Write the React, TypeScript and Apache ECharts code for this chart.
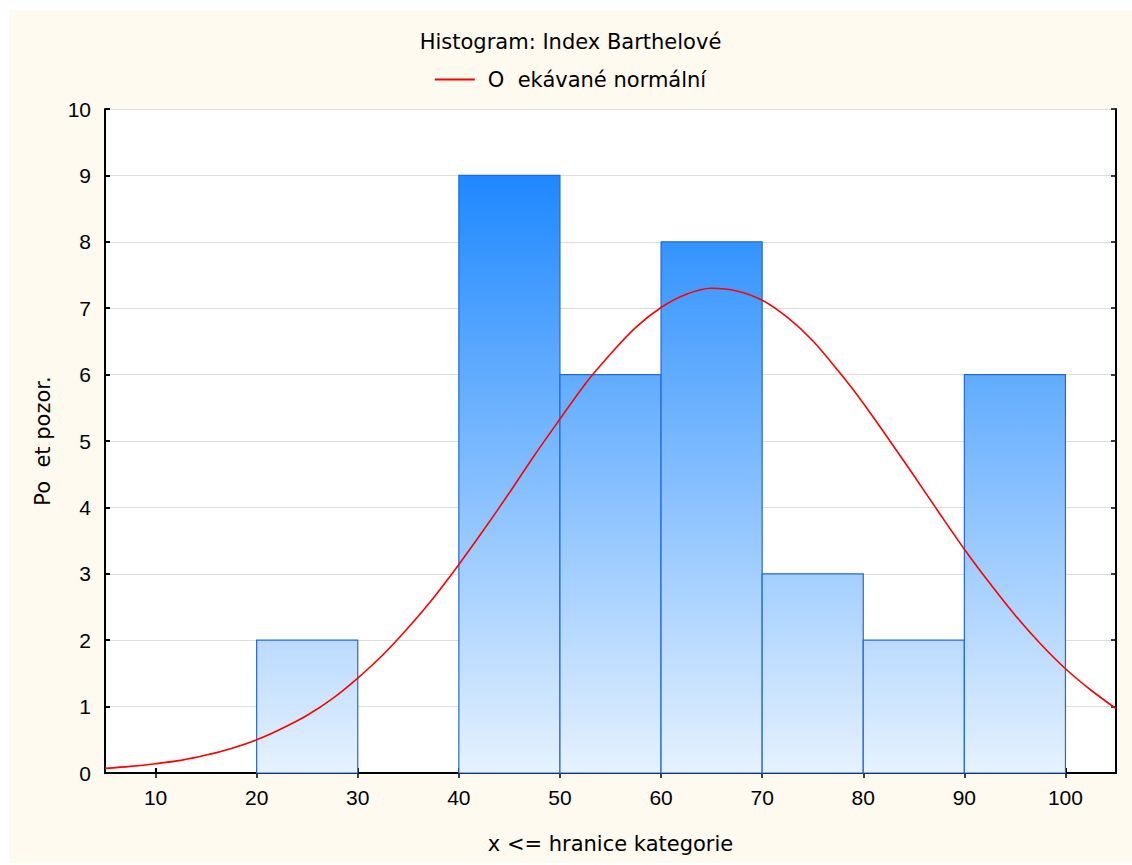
import React, { useEffect, useRef } from "react";
import * as echarts from "echarts";

// Histogram bins (lower bound, width) and observed counts
const binStarts = [20, 30, 40, 50, 60, 70, 80, 90];
const binWidth = 10;
const counts = [2, 0, 9, 6, 8, 3, 2, 6];

// Expected normal curve, sampled every 2.5 units
const curveX = [
  5, 7.5, 10, 12.5, 15, 17.5, 20, 22.5, 25, 27.5, 30, 32.5, 35, 37.5, 40, 42.5, 45, 47.5, 50, 52.5,
  55, 57.5, 60, 62.5, 65, 67.5, 70, 72.5, 75, 77.5, 80, 82.5, 85, 87.5, 90, 92.5, 95, 97.5, 100, 102.5, 105,
];
const curveY = [
  0.07, 0.1, 0.14, 0.19, 0.27, 0.37, 0.5, 0.67, 0.87, 1.12, 1.43, 1.78, 2.19, 2.64, 3.14, 3.67, 4.22, 4.79, 5.33, 5.86,
  6.31, 6.71, 7.01, 7.21, 7.3, 7.26, 7.12, 6.86, 6.51, 6.06, 5.57, 5.03, 4.48, 3.92, 3.37, 2.86, 2.38, 1.95, 1.57, 1.25, 0.97,
];

// Axis ticks
const xTickValues = [10, 20, 30, 40, 50, 60, 70, 80, 90, 100];
const xMin = 5;
const xMax = 105;
const yMin = 0;
const yMax = 10;

const titleText = "Histogram: Index Barthelové";
const curveName = "O  ekávané normální";
const xName = "x <= hranice kategorie";
const yName = "Po  et pozor.";

const FONT = "'Liberation Sans', Arial, sans-serif";
const WIDE_FONT = "'DejaVu Sans', 'Liberation Sans', sans-serif";

export default function App() {
  const ref = useRef<HTMLDivElement>(null);

  useEffect(() => {
    if (!ref.current) return;
    const chart = echarts.init(ref.current, null, { renderer: "svg" });

    const axisLine = { show: true, lineStyle: { color: "#000", width: 2 } };

    chart.setOption({
      animation: false,
      backgroundColor: "#FEFAEF",
      textStyle: { fontFamily: FONT, color: "#000" },
      title: {
        text: titleText,
        left: "center",
        top: 16,
        textStyle: { fontFamily: WIDE_FONT, fontSize: 21, fontWeight: "normal", color: "#000" },
      },
      legend: {
        top: 54,
        left: "center",
        itemWidth: 40,
        itemHeight: 2,
        data: [{ name: curveName, icon: "rect" }],
        textStyle: { fontFamily: WIDE_FONT, fontSize: 21, color: "#000", padding: [0, 0, 0, 8] },
      },
      grid: { left: 96, top: 99, width: 1011, height: 664, backgroundColor: "#fff", show: true, borderWidth: 0 },
      xAxis: [
        {
          type: "value",
          min: xMin,
          max: xMax,
          name: xName,
          nameLocation: "middle",
          nameGap: 60,
          nameTextStyle: { fontFamily: WIDE_FONT, fontSize: 21, color: "#000" },
          axisLine,
          axisTick: { show: true, inside: true, length: 5, customValues: xTickValues, lineStyle: { color: "#000", width: 2 } },
          axisLabel: { customValues: xTickValues, fontFamily: FONT, fontSize: 21, color: "#000", margin: 14 },
          splitLine: { show: false },
        },
        {
          type: "value",
          position: "top",
          min: xMin,
          max: xMax,
          axisLine,
          axisTick: { show: true, inside: true, length: 5, customValues: xTickValues, lineStyle: { color: "#000", width: 1.5 } },
          axisLabel: { show: false },
          splitLine: { show: false },
        },
      ],
      yAxis: [
        {
          type: "value",
          min: yMin,
          max: yMax,
          interval: 1,
          name: yName,
          nameLocation: "middle",
          nameGap: 52,
          nameTextStyle: { fontFamily: WIDE_FONT, fontSize: 21, color: "#000" },
          axisLine,
          axisTick: { show: true, inside: true, length: 5, lineStyle: { color: "#000", width: 2 } },
          axisLabel: { fontFamily: FONT, fontSize: 21, color: "#000", margin: 14 },
          splitLine: { show: true, lineStyle: { color: "#DDDDDD", width: 1 } },
        },
        {
          type: "value",
          position: "right",
          min: yMin,
          max: yMax,
          interval: 1,
          axisLine,
          axisTick: { show: true, inside: true, length: 5, lineStyle: { color: "#000", width: 1.5 } },
          axisLabel: { show: false },
          splitLine: { show: false },
        },
      ],
      series: [
        {
          type: "custom",
          name: "Bins",
          xAxisIndex: 0,
          yAxisIndex: 0,
          encode: { x: [0, 1], y: 2 },
          data: binStarts.map((s, i) => [s, s + binWidth, counts[i]]),
          renderItem: (params: any, api: any) => {
            const start = api.value(0);
            const end = api.value(1);
            const v = api.value(2);
            if (!v) return null;
            const topLeft = api.coord([start, v]);
            const bottomRight = api.coord([end, 0]);
            const gradTop = api.coord([start, 9])[1];
            const gradBottom = api.coord([start, 0])[1];
            const fill = new echarts.graphic.LinearGradient(
              0,
              gradTop,
              0,
              gradBottom,
              [
                { offset: 0, color: "#1E88FF" },
                { offset: 1, color: "#E6F2FF" },
              ],
              true
            );
            return {
              type: "rect",
              shape: {
                x: topLeft[0],
                y: topLeft[1],
                width: bottomRight[0] - topLeft[0],
                height: bottomRight[1] - topLeft[1],
              },
              style: { fill, stroke: "#2468DA", lineWidth: 1.2 },
            };
          },
          z: 2,
        },
        {
          type: "line",
          name: curveName,
          xAxisIndex: 0,
          yAxisIndex: 0,
          data: curveX.map((x, i) => [x, curveY[i]]),
          smooth: 0.3,
          showSymbol: false,
          symbol: "none",
          itemStyle: { color: "#FF0000" },
          lineStyle: { color: "#FF0000", width: 1.6 },
          z: 3,
        },
      ],
    });

    return () => chart.dispose();
  }, []);

  return (
    <div
      ref={ref}
      style={{ position: "absolute", left: 9, top: 10, width: 1123, height: 853 }}
    />
  );
}
